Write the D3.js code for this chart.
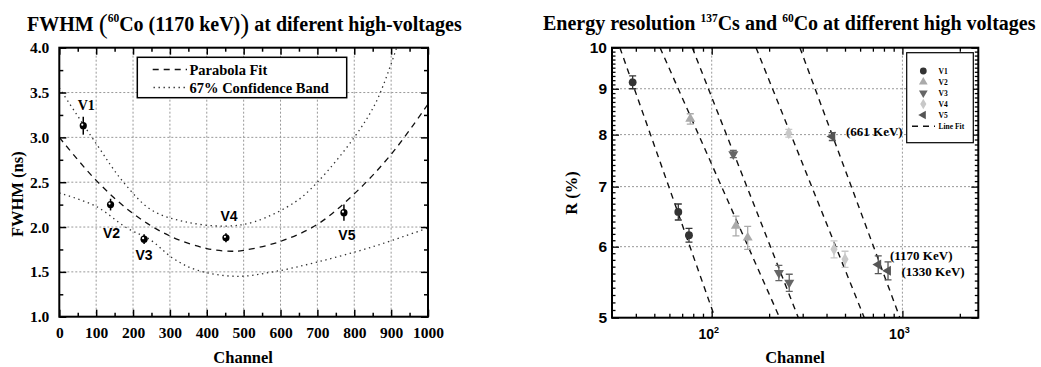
<!DOCTYPE html>
<html><head><meta charset="utf-8">
<script src="https://cdn.jsdelivr.net/npm/d3@7"></script>
<style>
body{margin:0;background:#fff;}
svg{display:block;}
.serif{font-family:"Liberation Serif","Times New Roman",serif;font-weight:bold;}
.sans{font-family:"Liberation Sans",Arial,sans-serif;font-weight:bold;}
</style></head>
<body>
<svg id="chart" width="1041" height="367"></svg>
<script>
// ---------- Left chart data (FWHM vs channel) ----------
const fwhmLabels   = ["V1", "V2", "V3", "V4", "V5"];
const fwhmChannels = [65, 139, 230, 452, 772];
const fwhmValues   = [3.13, 2.25, 1.865, 1.88, 2.16];
const fwhmErrors   = [0.10, 0.065, 0.055, 0.05, 0.09];
const fitChannels  = [0, 100, 200, 300, 400, 467, 500, 600, 700, 800, 900, 1000];
const fitValues    = [3.0, 2.52, 2.15, 1.90, 1.76, 1.73, 1.74, 1.84, 2.03, 2.37, 2.81, 3.37];
const upperChannels = [0, 100, 174, 250, 340, 450, 530, 640, 700, 800, 860, 915];
const upperValues   = [3.55, 2.93, 2.50, 2.19, 2.06, 2.01, 2.06, 2.28, 2.50, 3.0, 3.4, 4.0];
const lowerChannels = [0, 100, 183, 246, 309, 373, 480, 580, 700, 850, 1000];
const lowerValues   = [2.38, 2.23, 1.99, 1.86, 1.65, 1.52, 1.45, 1.50, 1.61, 1.78, 1.99];
const fwhmXTicks = [0, 100, 200, 300, 400, 500, 600, 700, 800, 900, 1000];
const fwhmYTicks = [1.0, 1.5, 2.0, 2.5, 3.0, 3.5, 4.0];
const fwhmLegend = ["Parabola Fit", "67% Confidence Band"];

// ---------- Right chart data (energy resolution) ----------
const seriesNames = ["V1", "V2", "V3", "V4", "V5"];
const v1Channel = [38.5, 66.8, 76];   const v1Res = [9.15, 6.56, 6.18]; const v1Err = [0.15, 0.135, 0.11];
const v2Channel = [77.2, 134, 154.4]; const v2Res = [8.33, 6.33, 6.14]; const v2Err = [0.11, 0.16, 0.18];
const v3Channel = [129.8, 225, 255];  const v3Res = [7.61, 5.61, 5.47]; const v3Err = [0.07, 0.11, 0.12];
const v4Channel = [253.6, 437.8, 500];const v4Res = [8.03, 5.96, 5.81]; const v4Err = [0.08, 0.13, 0.12];
const v5Channel = [429, 747, 840.5];  const v5Res = [7.96, 5.73, 5.64]; const v5Err = [0.08, 0.13, 0.13];
const lineFitTopChannel    = [33, 53.6, 79.1, 170.8, 290];   // channel where fit reaches R = 10
const lineFitBottomChannel = [104, 227, 284.6, 631, 970];    // channel where fit reaches R = 5
const lineFitTopR = 10, lineFitBottomR = 5;
const resYTicks = [5, 6, 7, 8, 9, 10];
const resXMajor = [100, 1000];
const resXLabelsExp = ["2", "3"];
const energyLabels = ["(661 KeV)", "(1170 KeV)", "(1330 KeV)"];

const svg = d3.select("#chart");
const gridColor = "#999";

// =================== LEFT CHART ===================
{
  const L = 59.3, R = 428, T = 47.7, B = 316.7;
  const x = d3.scaleLinear().domain([0, 1000]).range([L, R]);
  const y = d3.scaleLinear().domain([1, 4]).range([B, T]);
  const g = svg.append("g");

  g.selectAll(".gx").data(fwhmXTicks.slice(1, -1)).join("line")
    .attr("x1", d => x(d)).attr("x2", d => x(d)).attr("y1", T).attr("y2", B)
    .attr("stroke", gridColor).attr("stroke-width", 1).attr("stroke-dasharray", "2,2");
  g.selectAll(".gy").data(fwhmYTicks.slice(1, -1)).join("line")
    .attr("y1", d => y(d)).attr("y2", d => y(d)).attr("x1", L).attr("x2", R)
    .attr("stroke", gridColor).attr("stroke-width", 1).attr("stroke-dasharray", "2,2");

  svg.append("clipPath").attr("id", "clipL").append("rect")
    .attr("x", L).attr("y", T).attr("width", R - L).attr("height", B - T);

  const line = d3.line().x(d => x(d[0])).y(d => y(d[1])).curve(d3.curveCatmullRom);
  g.append("path").datum(d3.zip(upperChannels, upperValues)).attr("d", line)
    .attr("fill", "none").attr("stroke", "#333").attr("stroke-width", 1.3)
    .attr("stroke-dasharray", "1.4,3.6").attr("clip-path", "url(#clipL)");
  g.append("path").datum(d3.zip(lowerChannels, lowerValues)).attr("d", line)
    .attr("fill", "none").attr("stroke", "#333").attr("stroke-width", 1.3)
    .attr("stroke-dasharray", "1.4,3.6").attr("clip-path", "url(#clipL)");
  g.append("path").datum(d3.zip(fitChannels, fitValues)).attr("d", line)
    .attr("fill", "none").attr("stroke", "#111").attr("stroke-width", 1.3)
    .attr("stroke-dasharray", "6,5").attr("clip-path", "url(#clipL)");

  const minorX = d3.range(50, 1000, 100);
  const minorY = d3.range(1.25, 4, 0.5);
  const axB = d3.axisBottom(x).tickValues(fwhmXTicks).tickSize(-7).tickFormat(d3.format("d")).tickPadding(10);
  const axT = d3.axisTop(x).tickValues(fwhmXTicks).tickSize(-7).tickFormat("");
  const axL = d3.axisLeft(y).tickValues(fwhmYTicks).tickSize(-7).tickFormat(d3.format(".1f")).tickPadding(10);
  const axR = d3.axisRight(y).tickValues(fwhmYTicks).tickSize(-7).tickFormat("");
  const mB = d3.axisBottom(x).tickValues(minorX).tickSize(-4).tickFormat("");
  const mT = d3.axisTop(x).tickValues(minorX).tickSize(-4).tickFormat("");
  const mL = d3.axisLeft(y).tickValues(minorY).tickSize(-4).tickFormat("");
  const mR = d3.axisRight(y).tickValues(minorY).tickSize(-4).tickFormat("");
  const axes = [[axB, `translate(0,${B})`], [axT, `translate(0,${T})`], [axL, `translate(${L},0)`], [axR, `translate(${R},0)`],
                [mB, `translate(0,${B})`], [mT, `translate(0,${T})`], [mL, `translate(${L},0)`], [mR, `translate(${R},0)`]];
  axes.forEach(([a, t]) => {
    const ag = g.append("g").attr("transform", t).call(a);
    ag.select(".domain").remove();
    ag.selectAll(".tick line").attr("stroke", "#000").attr("stroke-width", 1.5);
    ag.selectAll("text").attr("class", "serif").attr("font-size", 15.5).attr("fill", "#000");
  });
  g.append("rect").attr("x", L).attr("y", T).attr("width", R - L).attr("height", B - T)
    .attr("fill", "none").attr("stroke", "#000").attr("stroke-width", 2);

  const pts = fwhmLabels.map((l, i) => ({ l, c: fwhmChannels[i], v: fwhmValues[i], e: fwhmErrors[i] }));
  g.selectAll(".eb").data(pts).join("line")
    .attr("x1", d => x(d.c)).attr("x2", d => x(d.c)).attr("y1", d => y(d.v - d.e)).attr("y2", d => y(d.v + d.e))
    .attr("stroke", "#000").attr("stroke-width", 1.5);
  g.selectAll(".pt").data(pts).join("circle")
    .attr("cx", d => x(d.c)).attr("cy", d => y(d.v)).attr("r", 3.6).attr("fill", "#000");
  g.selectAll(".hl").data(pts).join("circle")
    .attr("cx", d => x(d.c) - 1).attr("cy", d => y(d.v) - 1).attr("r", 1.1).attr("fill", "#fff");

  const labelOffsets = [[3, -16, "serif"], [1, 33, "sans"], [0, 21, "sans"], [3, -17, "sans"], [3, 27, "sans"]];
  g.selectAll(".pl").data(pts).join("text")
    .attr("class", (d, i) => labelOffsets[i][2])
    .attr("x", (d, i) => x(d.c) + labelOffsets[i][0]).attr("y", (d, i) => y(d.v) + labelOffsets[i][1])
    .attr("text-anchor", "middle").attr("font-size", 14).text(d => d.l);

  g.append("rect").attr("x", 137.3).attr("y", 57.3).attr("width", 209.4).attr("height", 40.4)
    .attr("fill", "#fff").attr("stroke", "#000").attr("stroke-width", 1.5);
  g.append("line").attr("x1", 152.7).attr("x2", 187).attr("y1", 69.5).attr("y2", 69.5)
    .attr("stroke", "#111").attr("stroke-width", 1.3).attr("stroke-dasharray", "6,5");
  g.append("line").attr("x1", 153.5).attr("x2", 187).attr("y1", 87.5).attr("y2", 87.5)
    .attr("stroke", "#333").attr("stroke-width", 1.3).attr("stroke-dasharray", "1.4,3.6");
  g.selectAll(".lg").data(fwhmLegend).join("text").attr("class", "serif")
    .attr("x", 189.5).attr("y", (d, i) => 74.5 + i * 18).attr("font-size", 14.5).text(d => d);

  g.append("text").attr("class", "serif").attr("x", (L + R) / 2 - 0.5).attr("y", 363)
    .attr("text-anchor", "middle").attr("font-size", 16.5).text("Channel");
  g.append("text").attr("class", "serif").attr("transform", `translate(23,${(T + B) / 2 + 12}) rotate(-90)`)
    .attr("text-anchor", "middle").attr("font-size", 16.5).text("FWHM (ns)");

  const t = g.append("text").attr("class", "serif").attr("x", 27).attr("y", 31).attr("font-size", 20);
  t.append("tspan").text("FWHM ");
  t.append("tspan").attr("font-size", 27).attr("dy", 2).attr("font-weight", "normal").text("(");
  t.append("tspan").attr("font-size", 11.5).attr("dy", -11).text("60");
  t.append("tspan").attr("dy", 9).text("Co (1170 keV)");
  t.append("tspan").attr("font-size", 27).attr("dy", 2).attr("font-weight", "normal").text(")");
  t.append("tspan").attr("dy", -2).text(" at diferent high-voltages");
}

// =================== RIGHT CHART ===================
{
  const L = 612, R = 978.3, T = 47.7, B = 317.7;
  const x = d3.scaleLog().domain([30, 2500]).range([L, R]);
  const y = d3.scaleLog().domain([5, 10]).range([B, T]);
  const g = svg.append("g");

  g.selectAll(".gx").data(resXMajor).join("line")
    .attr("x1", d => x(d)).attr("x2", d => x(d)).attr("y1", T).attr("y2", B)
    .attr("stroke", gridColor).attr("stroke-width", 1).attr("stroke-dasharray", "2,2");
  g.selectAll(".gy").data(resYTicks.slice(1, -1)).join("line")
    .attr("y1", d => y(d)).attr("y2", d => y(d)).attr("x1", L).attr("x2", R)
    .attr("stroke", gridColor).attr("stroke-width", 1).attr("stroke-dasharray", "2,2");

  svg.append("clipPath").attr("id", "clipR").append("rect")
    .attr("x", L).attr("y", T).attr("width", R - L).attr("height", B - T);

  g.selectAll(".lf").data(lineFitTopChannel).join("line")
    .attr("x1", d => x(d)).attr("y1", y(lineFitTopR))
    .attr("x2", (d, i) => x(lineFitBottomChannel[i])).attr("y2", y(lineFitBottomR))
    .attr("stroke", "#111").attr("stroke-width", 1.4).attr("stroke-dasharray", "6,5")
    .attr("clip-path", "url(#clipR)");

  const minorX = [40, 50, 60, 70, 80, 90, 200, 300, 400, 500, 600, 700, 800, 900, 2000];
  const minorY = d3.range(51, 100).map(v => v / 10).filter(v => Math.abs(v - Math.round(v)) > 1e-6);
  const mk = (a, vals, size) => a.tickValues(vals).tickSize(size).tickFormat("");
  const axes = [
    [mk(d3.axisBottom(x), resXMajor, -7), `translate(0,${B})`],
    [mk(d3.axisTop(x), resXMajor, -7), `translate(0,${T})`],
    [mk(d3.axisBottom(x), minorX, -4), `translate(0,${B})`],
    [mk(d3.axisTop(x), minorX, -4), `translate(0,${T})`],
    [mk(d3.axisLeft(y), resYTicks, -7), `translate(${L},0)`],
    [mk(d3.axisRight(y), resYTicks, -7), `translate(${R},0)`],
    [mk(d3.axisLeft(y), minorY, -3.5), `translate(${L},0)`],
    [mk(d3.axisRight(y), minorY, -3.5), `translate(${R},0)`]
  ];
  axes.forEach(([a, t]) => {
    const ag = g.append("g").attr("transform", t).call(a);
    ag.select(".domain").remove();
    ag.selectAll(".tick line").attr("stroke", "#000").attr("stroke-width", 1.3);
  });
  g.selectAll(".yl").data(resYTicks).join("text").attr("class", "sans")
    .attr("x", L - 5).attr("y", d => y(d) + 5.5).attr("text-anchor", "end").attr("font-size", 15.5).text(d => d);
  const xl = g.selectAll(".xl").data(resXMajor).join("text").attr("class", "sans")
    .attr("x", d => x(d) - 3).attr("y", 339).attr("text-anchor", "middle").attr("font-size", 14);
  xl.append("tspan").text("10");
  xl.append("tspan").attr("font-size", 9).attr("dy", -6).text((d, i) => resXLabelsExp[i]);
  g.append("rect").attr("x", L).attr("y", T).attr("width", R - L).attr("height", B - T)
    .attr("fill", "none").attr("stroke", "#000").attr("stroke-width", 2);

  const colors = ["#333", "#aaa", "#666", "#c8c8c8", "#555"];
  const shapes = [
    { type: d3.symbolCircle, rot: 0, size: 48 },
    { type: d3.symbolTriangle, rot: 0, size: 44 },
    { type: d3.symbolTriangle, rot: 180, size: 44 },
    { type: d3.symbolDiamond, rot: 0, size: 44 },
    { type: d3.symbolTriangle, rot: -90, size: 44 }
  ];
  const chans = [v1Channel, v2Channel, v3Channel, v4Channel, v5Channel];
  const ress = [v1Res, v2Res, v3Res, v4Res, v5Res];
  const errs = [v1Err, v2Err, v3Err, v4Err, v5Err];
  seriesNames.forEach((name, s) => {
    const pts = chans[s].map((c, i) => ({ c, r: ress[s][i], e: errs[s][i] }));
    const sg = g.append("g");
    sg.selectAll(".eb").data(pts).join("path")
      .attr("d", d => {
        const px = x(d.c), y1 = y(d.r - d.e), y2 = y(d.r + d.e);
        return `M${px},${y1}V${y2}M${px - 3.5},${y1}H${px + 3.5}M${px - 3.5},${y2}H${px + 3.5}`;
      })
      .attr("stroke", colors[s]).attr("stroke-width", 1.3).attr("fill", "none");
    sg.selectAll(".pt").data(pts).join("path")
      .attr("d", d3.symbol(shapes[s].type, shapes[s].size)())
      .attr("transform", d => `translate(${x(d.c)},${y(d.r)}) rotate(${shapes[s].rot})`)
      .attr("fill", colors[s]);
  });

  const annPos = [[846, 135.5], [890, 259.5], [901.5, 276]];
  g.selectAll(".ann").data(energyLabels).join("text").attr("class", "serif")
    .attr("x", (d, i) => annPos[i][0]).attr("y", (d, i) => annPos[i][1])
    .attr("text-anchor", "start").attr("font-size", 13).text(d => d);

  g.append("rect").attr("x", 906.7).attr("y", 52.7).attr("width", 66.6).attr("height", 90)
    .attr("fill", "#fff").attr("stroke", "#000").attr("stroke-width", 1.2);
  seriesNames.forEach((name, s) => {
    const ly = 71 + s * 11;
    g.append("path").attr("d", d3.symbol(shapes[s].type, shapes[s].size * 0.75)())
      .attr("transform", `translate(923.3,${ly}) rotate(${shapes[s].rot})`).attr("fill", colors[s]);
    g.append("text").attr("class", "serif").attr("x", 938.5).attr("y", ly + 2.5)
      .attr("font-size", 7.5).text(name);
  });
  g.append("line").attr("x1", 912).attr("x2", 935).attr("y1", 126.3).attr("y2", 126.3)
    .attr("stroke", "#111").attr("stroke-width", 1.4).attr("stroke-dasharray", "6,5");
  g.append("text").attr("class", "serif").attr("x", 938.5).attr("y", 128.8).attr("font-size", 7.5).text("Line Fit");

  g.append("text").attr("class", "serif").attr("x", 795).attr("y", 363)
    .attr("text-anchor", "middle").attr("font-size", 16.5).text("Channel");
  g.append("text").attr("class", "serif").attr("transform", `translate(577,193) rotate(-90)`)
    .attr("text-anchor", "middle").attr("font-size", 16.5).text("R (%)");

  const t = g.append("text").attr("class", "serif").attr("x", 543).attr("y", 30).attr("font-size", 20);
  t.append("tspan").text("Energy resolution ");
  t.append("tspan").attr("font-size", 11.5).attr("dy", -8).text("137");
  t.append("tspan").attr("dy", 8).text("Cs and ");
  t.append("tspan").attr("font-size", 11.5).attr("dy", -8).text("60");
  t.append("tspan").attr("dy", 8).text("Co at different high voltages");
}
</script>
</body></html>
